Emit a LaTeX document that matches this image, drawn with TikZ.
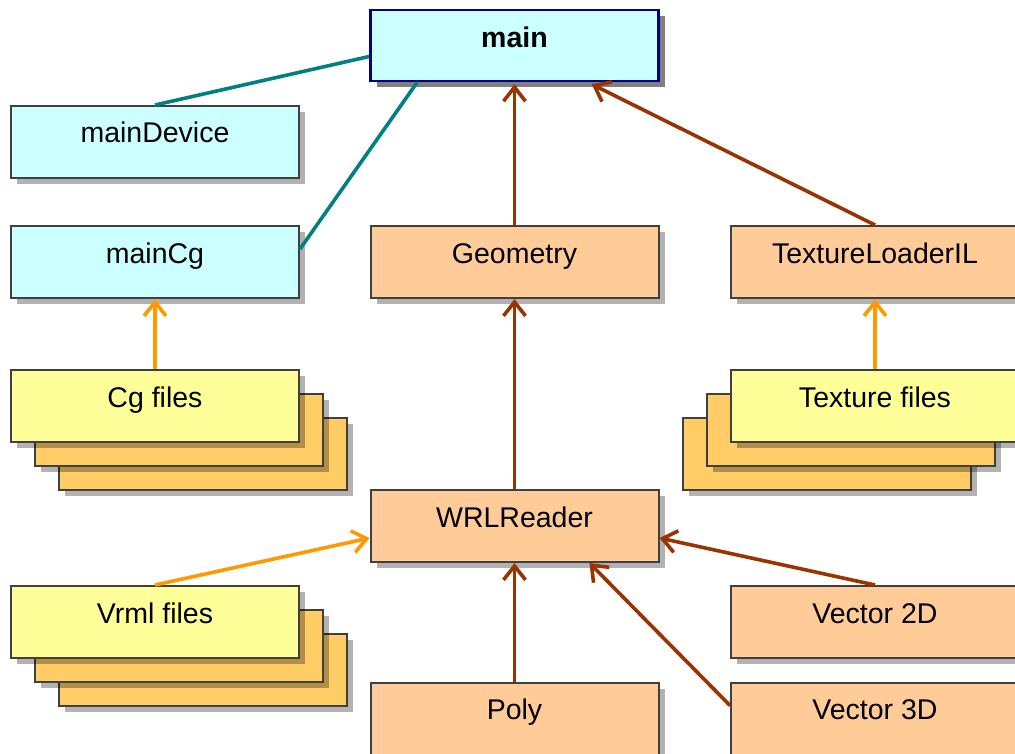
\documentclass[tikz,border=0pt]{standalone}
\usepackage{fontspec}
\setmainfont{Liberation Sans}
\usetikzlibrary{arrows.meta,shadows}

\definecolor{boxcyan}{HTML}{CCFFFF}
\definecolor{boxpeach}{HTML}{FFCC99}
\definecolor{boxyellow}{HTML}{FFFF99}
\definecolor{cardback}{HTML}{FFCC66}
\definecolor{edgeteal}{HTML}{008080}
\definecolor{edgebrown}{HTML}{993300}
\definecolor{edgeorange}{HTML}{FF9900}
\definecolor{rim}{HTML}{404040}
\definecolor{navyrim}{HTML}{000080}
\definecolor{solidshadow}{HTML}{808080}

\begin{document}
\begin{tikzpicture}[x=1pt,y=-1pt,
  box/.style={draw=rim, line width=2pt, minimum width=288pt,
    minimum height=72pt, inner sep=0pt, text height=20pt, text depth=18pt,
    font=\fontsize{28.5}{34}\selectfont,
    general shadow={fill=black, fill opacity=0.3,
      shadow xshift=6pt, shadow yshift=-6pt}},
  modulebox/.style={box, fill=boxcyan},
  classbox/.style={box, fill=boxpeach},
  filebox/.style={box, fill=boxyellow},
  cardbox/.style={box, fill=cardback},
  mainbox/.style={draw=navyrim, line width=2.6pt, fill=boxcyan,
    minimum width=288pt, minimum height=71pt, inner sep=0pt,
    text height=20pt, text depth=15pt,
    font=\fontsize{28.5}{34}\selectfont\bfseries,
    general shadow={fill=solidshadow, shadow xshift=6pt, shadow yshift=-6pt}},
  link/.style={draw=edgeteal, line width=3.6pt},
  uses/.style={draw=edgebrown, line width=3.6pt,
    -{Straight Barb[length=14pt,width=22pt]}},
  loads/.style={draw=edgeorange, line width=3.6pt,
    -{Straight Barb[length=14pt,width=22pt]}}
]
\useasboundingbox (0,0) rectangle (1015,754);
\clip (0,0) rectangle (1015,754);

% top-level program
\node[mainbox] (main) at (514.5,45.5) {main};

% left column: device and Cg setup
\node[modulebox] (mainDevice) at (155,142) {mainDevice};
\node[modulebox] (mainCg) at (155,262) {mainCg};

% class row
\node[classbox] (geometry) at (514.5,262) {Geometry};
\node[classbox] (texloader) at (875,262) {TextureLoaderIL};

% Cg file stack
\node[cardbox] (cgC) at (203,454) {};
\node[cardbox] (cgB) at (179,430) {};
\node[filebox] (cgfiles) at (155,406) {Cg files};

% texture file stack
\node[cardbox] (texC) at (827,454) {};
\node[cardbox] (texB) at (851,430) {};
\node[filebox] (texfiles) at (875,406) {Texture files};

% reader
\node[classbox] (wrl) at (514.5,526) {WRLReader};

% VRML file stack
\node[cardbox] (vrmlC) at (203,670) {};
\node[cardbox] (vrmlB) at (179,646) {};
\node[filebox] (vrmlfiles) at (155,622) {Vrml files};

% helper classes
\node[classbox] (vec2) at (875,622) {Vector 2D};
\node[classbox] (poly) at (514.5,718.5) {Poly};
\node[classbox] (vec3) at (875,718.5) {Vector 3D};

% connectors
\draw[link] ([yshift=-11pt]main.west) -- (mainDevice.north);
\draw[link] ([xshift=48pt]main.south west) -- ([yshift=13pt]mainCg.east);
\draw[uses] (geometry.north) -- ([yshift=-2pt]main.south);
\draw[uses] (texloader.north) -- ([xshift=-68pt,yshift=-2pt]main.south east);
\draw[loads] (cgfiles.north) -- (mainCg.south);
\draw[loads] (texfiles.north) -- (texloader.south);
\draw[uses] (wrl.north) -- (geometry.south);
\draw[loads] (vrmlfiles.north) -- ([yshift=-12pt]wrl.west);
\draw[uses] (vec2.north) -- ([yshift=-12pt]wrl.east);
\draw[uses] (poly.north) -- (wrl.south);
\draw[uses] ([yshift=13pt]vec3.west) -- ([xshift=-70pt]wrl.south east);
\end{tikzpicture}
\end{document}
